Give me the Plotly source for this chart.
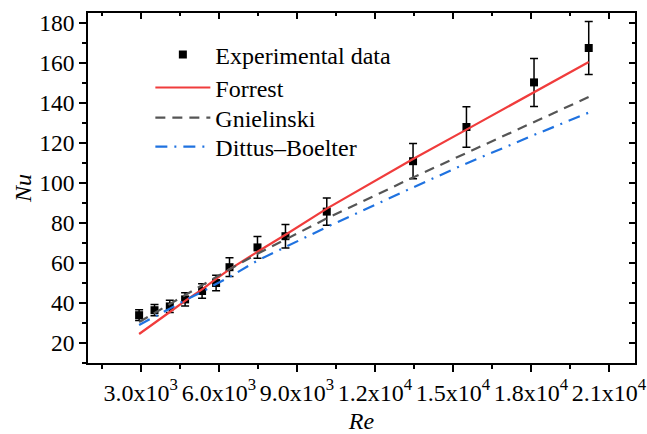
import plotly.graph_objects as go

# Data
re_vals = [2935, 3527, 4115, 4703, 5356, 5895, 6410, 7486, 8562, 10150, 13467, 15520, 18118, 20221]
nu_exp = [33.9, 36.4, 38.3, 41.8, 46.0, 50.0, 57.9, 67.8, 73.4, 85.7, 110.9, 128.0, 150.3, 167.5]
nu_err = [2.7, 2.8, 3.1, 3.3, 3.6, 3.9, 4.7, 5.4, 5.9, 6.8, 8.8, 10.1, 12.0, 13.3]
nu_forrest = [24.5, 29.9, 35.5, 41.1, 46.8, 52.1, 56.8, 65.6, 74.1, 87.2, 112.0, 126.7, 145.5, 160.5]
nu_gniel = [30.5, 35.0, 39.5, 44.0, 49.0, 53.0, 56.9, 64.6, 71.6, 82.3, 102.8, 115.0, 130.4, 143.0]
nu_db = [29.0, 33.0, 37.2, 41.4, 45.6, 49.5, 53.0, 61.2, 68.0, 78.0, 97.8, 109.8, 124.0, 135.2]

x_tickvals = [3000, 6000, 9000, 12000, 15000, 18000, 21000]
x_ticktext = ["3.0x10<sup>3</sup>", "6.0x10<sup>3</sup>", "9.0x10<sup>3</sup>",
              "1.2x10<sup>4</sup>", "1.5x10<sup>4</sup>", "1.8x10<sup>4</sup>", "2.1x10<sup>4</sup>"]
y_tickvals = [20, 40, 60, 80, 100, 120, 140, 160, 180]

x_range = [970, 22000]
y_range = [10, 185]

FONT = "Liberation Serif, Times New Roman, DejaVu Serif, serif"

fig = go.Figure()
fig.add_trace(go.Scatter(
    x=re_vals, y=nu_exp, mode="markers", name="Experimental data", legend="legend",
    marker=dict(symbol="square", size=8, color="black"),
    error_y=dict(type="data", array=nu_err, visible=True, color="black", thickness=1.5, width=4),
))
fig.add_trace(go.Scatter(
    x=re_vals, y=nu_forrest, mode="lines", name="Forrest", legend="legend2",
    line=dict(color="#F03C3C", width=2.2),
))
fig.add_trace(go.Scatter(
    x=re_vals, y=nu_gniel, mode="lines", name="Gnielinski", legend="legend3",
    line=dict(color="#555555", width=2.2, dash="10px,7px"),
))
fig.add_trace(go.Scatter(
    x=re_vals, y=nu_db, mode="lines", name="Dittus\u2013Boelter", legend="legend4",
    line=dict(color="#1F72E0", width=2.2, dash="12px,7px,2px,7px"),
))
# invisible trace for the mirrored (top/right) axes
fig.add_trace(go.Scatter(x=[x_range[0]], y=[y_range[0]], xaxis="x2", yaxis="y2",
                         mode="markers", marker=dict(opacity=0), showlegend=False, hoverinfo="skip"))

common = dict(showgrid=False, zeroline=False, showline=True, linecolor="black", linewidth=1.5,
              automargin=False)

def leg(ypos):
    return dict(x=0.114, y=ypos, xanchor="left", yanchor="middle",
                bgcolor="rgba(0,0,0,0)", font=dict(family=FONT, size=24),
                itemwidth=55)

fig.update_layout(
    width=647, height=434,
    margin=dict(l=88, r=12, t=13, b=71, autoexpand=False),
    paper_bgcolor="white", plot_bgcolor="white",
    font=dict(family=FONT, size=23, color="black"),
    showlegend=True,
    legend=leg(0.88), legend2=leg(0.786), legend3=leg(0.70), legend4=leg(0.617),
    xaxis=dict(range=x_range, tickvals=x_tickvals, ticktext=x_ticktext,
               ticks="outside", ticklen=7, tickwidth=1.5, tickcolor="black",
               minor=dict(dtick=1500, tick0=0, ticks="outside", ticklen=4, tickwidth=1.5, tickcolor="black"),
               tickfont=dict(family=FONT, size=24),
               title=dict(text="<i>Re</i>", font=dict(family=FONT, size=24), standoff=12),
               **common),
    yaxis=dict(range=y_range, tickvals=y_tickvals,
               ticks="outside", ticklen=7, tickwidth=1.5, tickcolor="black",
               minor=dict(dtick=10, tick0=0, ticks="outside", ticklen=4, tickwidth=1.5, tickcolor="black"),
               tickfont=dict(family=FONT, size=23.5),
               title=dict(text="<i>Nu</i>", font=dict(family=FONT, size=24), standoff=1),
               **common),
    xaxis2=dict(range=x_range, overlaying="x", side="top", tickvals=x_tickvals,
                showticklabels=False, ticks="inside", ticklen=6, tickwidth=1.5, tickcolor="black",
                minor=dict(dtick=1500, tick0=0, ticks="inside", ticklen=3, tickwidth=1.5, tickcolor="black"),
                **common),
    yaxis2=dict(range=y_range, overlaying="y", side="right", tickvals=y_tickvals,
                showticklabels=False, ticks="inside", ticklen=6, tickwidth=1.5, tickcolor="black",
                minor=dict(dtick=10, tick0=0, ticks="inside", ticklen=3, tickwidth=1.5, tickcolor="black"),
                **common),
)

fig.write_html("out.html", post_script="document.body.style.margin='0';",
               config={"displayModeBar": False})
